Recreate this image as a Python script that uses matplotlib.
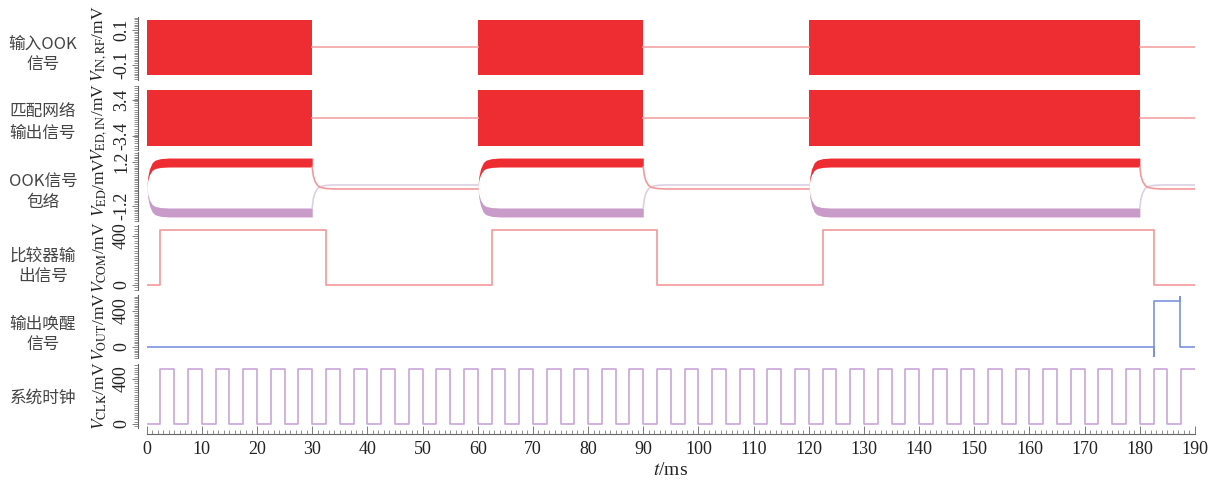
import numpy as np
import matplotlib
matplotlib.use('Agg')
import matplotlib.pyplot as plt
from matplotlib.ticker import MultipleLocator

plt.rcParams['font.family'] = ['Liberation Serif', 'DejaVu Serif']
plt.rcParams['mathtext.fontset'] = 'stix'
plt.rcParams['axes.unicode_minus'] = False

# ---- data (time in ms) ----
t_end = 190
burst_start = [0, 60, 120]
burst_end = [30, 90, 180]

rf_amp = 0.157          # 输入OOK信号 幅度 (mV)
ed_in_amp = 5.2         # 匹配网络输出 幅度 (mV)

# 包络检波输出电平 (mV)
env_top_outer = 1.42
env_top_inner = 0.93
env_bot_inner = -1.31
env_bot_outer = -1.80
env_off_red = -0.27
env_off_pale = -0.05
# 包络建立/衰减过程 (相对时间 ms, 完成比例)
settle_t = [0, 0.2, 0.5, 1.0, 1.5, 2.5, 4.0]
settle_frac = [0, 0.4, 0.65, 0.85, 0.93, 0.98, 1.0]

# 比较器输出
comp_edges = [0, 2.5, 32.5, 62.5, 92.5, 122.5, 182.5, 190]
comp_levels = [0, 450, 0, 450, 0, 450, 0, 0]

# 唤醒输出
wake_t = [0, 182.5, 182.5, 182.5, 187.3, 187.3, 187.3, 190]
wake_v = [0, 0, -100, 515, 515, 555, 0, 0]

# 系统时钟 上升沿
clk_rise = [2.5, 7.5, 12.5, 17.5, 22.5, 27.5, 32.5, 37.5, 42.5, 47.5,
            52.5, 57.5, 62.5, 67.5, 72.5, 77.5, 82.5, 87.5, 92.5, 97.5,
            102.5, 107.5, 112.5, 117.5, 122.5, 127.5, 132.5, 137.5, 142.5, 147.5,
            152.5, 157.5, 162.5, 167.5, 172.5, 177.5, 182.5, 187.5]
clk_width = 2.5
clk_high = 490

row_names = ['输入OOK\n信号', '匹配网络\n输出信号', 'OOK信号\n包络',
             '比较器输\n出信号', '输出唤醒\n信号', '系统时钟']
ylabels = [r'$V_{\mathrm{IN,RF}}$/mV', r'$V_{\mathrm{ED,IN}}$/mV', r'$V_{\mathrm{ED}}$/mV',
           r'$V_{\mathrm{COM}}$/mV', r'$V_{\mathrm{OUT}}$/mV', r'$V_{\mathrm{CLK}}$/mV']
yticks = [[-0.1, 0.1], [-3.4, 3.4], [-1.2, 1.2], [0, 400], [0, 400], [0, 400]]
yticklabels = [['-0.1', '0.1'], ['-3.4', '3.4'], ['-1.2', '1.2'],
               ['0', '400'], ['0', '400'], ['0', '400']]

# ---- layout (pixels) ----
W, H = 1219, 483
panel_px = [(17, 80), (86, 150), (152, 221), (225, 290), (295, 358), (364, 428)]
ylims = [(-0.186, 0.174), (-6.05, 6.05), (-2.02, 1.75), (-41, 490), (-122, 578), (-36, 533)]
minor_steps = [0.01, 0.4, 0.1, 20, 20, 20]
name_y = [54, 123, 192, 266, 334, 398]
label_y = [0.58, 0.44, 0.5, 0.5, 0.5, 0.5]
x0_px, x1_px = 146.7, 1195

red = '#ee2d33'
pink = '#f4a3a3'
purple = '#c99bc9'
lilac = '#ddd0e3'
comp_c = '#f29a9a'
blue = '#7b93dd'
clk_c = '#c9a6dc'
spine_c = '#666666'

fig = plt.figure(figsize=(W / 100, H / 100), dpi=100)
axes = []
for i, (top, bot) in enumerate(panel_px):
    ax = fig.add_axes([x0_px / W, 1 - bot / H, (x1_px - x0_px) / W, (bot - top) / H])
    ax.set_xlim(0, t_end)
    ax.set_ylim(*ylims[i])
    ax.patch.set_visible(False)
    for s in ['top', 'right', 'bottom']:
        ax.spines[s].set_visible(False)
    ax.spines['left'].set_position(('outward', 6))
    ax.spines['left'].set_color(spine_c)
    ax.spines['left'].set_linewidth(0.8)
    ax.set_yticks(yticks[i])
    ax.set_yticklabels(yticklabels[i], rotation=90, va='center')
    ax.yaxis.set_minor_locator(MultipleLocator(minor_steps[i]))
    ax.tick_params(axis='y', which='major', length=4, width=0.6, color=spine_c,
                   labelsize=13, pad=2, labelcolor='#222222')
    ax.tick_params(axis='y', which='minor', length=3, width=0.5, color=spine_c)
    ax.tick_params(axis='x', which='both', bottom=False, labelbottom=False)
    ax.set_ylabel(ylabels[i], fontsize=12.5, color='#222222')
    ax.yaxis.set_label_coords(-0.036, label_y[i])
    fig.text(43 / W, 1 - name_y[i] / H, row_names[i], ha='center', va='center',
             multialignment='center', fontsize=12, linespacing=1.25,
             family=['Noto Sans CJK SC', 'DejaVu Sans'], color='#444444')
    axes.append(ax)

off_start = burst_end
off_end = burst_start[1:] + [t_end]

# 1) input OOK
ax = axes[0]
for s, e in zip(burst_start, burst_end):
    ax.fill_between([s, e], -rf_amp, rf_amp, color=red, lw=0)
for a, b in zip(off_start, off_end):
    ax.plot([a, b], [0, 0], color=pink, lw=1.2)

# 2) matching network output
ax = axes[1]
for s, e in zip(burst_start, burst_end):
    ax.fill_between([s, e], -ed_in_amp, ed_in_amp, color=red, lw=0)
for a, b in zip(off_start, off_end):
    ax.plot([a, b], [0, 0], color=pink, lw=1.2)

# 3) envelope
ax = axes[2]
st = np.array(settle_t)
fr = np.array(settle_frac)
for s, e, nxt in zip(burst_start, burst_end, off_end):
    tt = np.append(s + st, e)
    f = np.append(fr, 1.0)
    up_out = env_off_red + f * (env_top_outer - env_off_red)
    up_in = env_off_red + f * (env_top_inner - env_off_red)
    lo_in = env_off_pale + f * (env_bot_inner - env_off_pale)
    lo_out = env_off_pale + f * (env_bot_outer - env_off_pale)
    ax.fill_between(tt, lo_out, lo_in, color=purple, lw=0)
    ax.fill_between(tt, up_in, up_out, color=red, lw=0)
    # decay after burst
    td = np.append(e + st, nxt)
    fd = np.append(fr, 1.0)
    ax.plot(td, env_bot_inner + fd * (env_off_pale - env_bot_inner), color=lilac, lw=1.2)
    ax.plot(td, env_top_inner + fd * (env_off_red - env_top_inner), color=comp_c, lw=1.2)

# 4) comparator
axes[3].step(comp_edges, comp_levels, where='post', color=comp_c, lw=1.2)

# 5) wake-up output
axes[4].plot(wake_t, wake_v, color=blue, lw=1.2)

# 6) clock
clk_t = [0]
clk_v = [0]
for r in clk_rise:
    f_edge = min(r + clk_width, t_end)
    clk_t += [r, r, f_edge, f_edge]
    clk_v += [0, clk_high, clk_high, 0 if f_edge < t_end else clk_high]
if clk_t[-1] < t_end:
    clk_t.append(t_end)
    clk_v.append(0)
axes[5].plot(clk_t, clk_v, color=clk_c, lw=1.2)

# bottom time axis
ax = axes[5]
ax.spines['bottom'].set_visible(True)
ax.spines['bottom'].set_position(('outward', 4))
ax.spines['bottom'].set_color(spine_c)
ax.spines['bottom'].set_linewidth(0.8)
ax.xaxis.set_major_locator(MultipleLocator(10))
ax.xaxis.set_minor_locator(MultipleLocator(1))
ax.tick_params(axis='x', which='major', bottom=True, labelbottom=True, direction='in',
               length=6, width=0.6, color=spine_c, labelsize=13, pad=5, labelcolor='#222222')
ax.tick_params(axis='x', which='minor', bottom=True, direction='in', length=3,
               width=0.5, color=spine_c)
ax.set_xlabel(r'$t$/ms', fontsize=14, color='#222222', labelpad=3)

fig.savefig('out.png', dpi=100)
